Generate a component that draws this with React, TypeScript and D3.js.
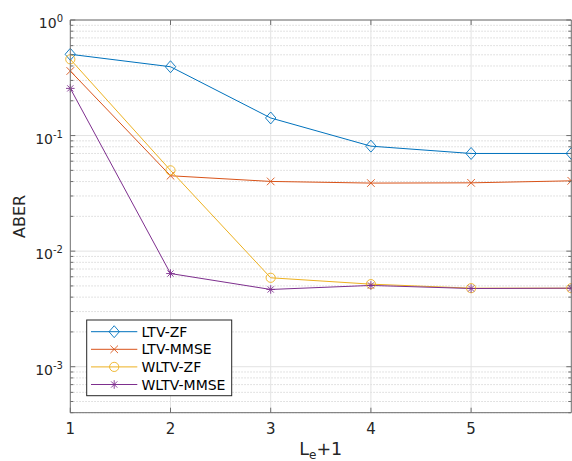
import React from "react";
import * as d3 from "d3";

const xValues = [1, 2, 3, 4, 5, 6];
const seriesNames = ["LTV-ZF", "LTV-MMSE", "WLTV-ZF", "WLTV-MMSE"];
const ltvZF = [0.505, 0.394, 0.142, 0.081, 0.070, 0.070];
const ltvMMSE = [0.362, 0.0449, 0.0401, 0.0388, 0.039, 0.0406];
const wltvZF = [0.457, 0.050, 0.00588, 0.00518, 0.00478, 0.00478];
const wltvMMSE = [0.256, 0.0064, 0.00466, 0.00505, 0.00475, 0.00478];
const seriesColors = ["#0072BD", "#D95319", "#EDB120", "#7E2F8E"];
const markers = ["diamond", "x", "circle", "star"];
const xTicks = [1, 2, 3, 4, 5];
const yDecades = [0, -1, -2, -3];

const W = 572, H = 461;
const L = 70.3, R = 571.3, T = 20, B = 412.7;
const FONT = "DejaVu Sans, sans-serif";

function Marker({ type, x, y, color }: { type: string; x: number; y: number; color: string }) {
  const sw = 0.9;
  if (type === "diamond") {
    const a = 5.2;
    return <path d={`M${x},${y - a * 1.15}L${x + a},${y}L${x},${y + a * 1.15}L${x - a},${y}Z`} fill="none" stroke={color} strokeWidth={sw} />;
  }
  if (type === "circle") return <circle cx={x} cy={y} r={4.6} fill="none" stroke={color} strokeWidth={sw} />;
  if (type === "x") {
    const a = 3.8;
    return <path d={`M${x - a},${y - a}L${x + a},${y + a}M${x - a},${y + a}L${x + a},${y - a}`} stroke={color} strokeWidth={sw} />;
  }
  const a = 4.3;
  const b = a * 0.72;
  return <path d={`M${x},${y - a}L${x},${y + a}M${x - a},${y}L${x + a},${y}M${x - b},${y - b}L${x + b},${y + b}M${x - b},${y + b}L${x + b},${y - b}`} stroke={color} strokeWidth={sw} />;
}

export default function App() {
  const x = d3.scaleLinear().domain([1, 6]).range([L, R]);
  const y = d3.scaleLog().domain([4e-4, 1]).range([B, T]);
  const series = [ltvZF, ltvMMSE, wltvZF, wltvMMSE];
  const line = d3.line<number>().x((_, i) => x(xValues[i])).y((d) => y(d));

  const minor: number[] = [];
  for (const dec of [-4, -3, -2, -1]) {
    for (let k = 2; k <= 9; k++) {
      const v = k * Math.pow(10, dec);
      if (v >= 4e-4 && v < 1) minor.push(v);
    }
  }
  const axisColor = "#6e6e6e";
  const legX = 86.7, legY = 320, legW = 145, legH = 75.7;
  const rowY = [331.7, 349.3, 366.9, 384.5];

  return (
    <svg width={W} height={H} style={{ position: "absolute", left: 0, top: 0, background: "#fff" }}>
      <rect x={0} y={0} width={W} height={H} fill="#fff" />
      {minor.map((v) => (
        <line key={"mg" + v} x1={L} x2={R} y1={y(v)} y2={y(v)} stroke="#c8c8c8" strokeWidth={0.7} strokeDasharray="1.5,1.5" />
      ))}
      {yDecades.map((d) => (
        <line key={"yg" + d} x1={L} x2={R} y1={y(Math.pow(10, d))} y2={y(Math.pow(10, d))} stroke="#e3e3e3" strokeWidth={1} />
      ))}
      {xTicks.slice(1).map((t) => (
        <line key={"xg" + t} x1={x(t)} x2={x(t)} y1={T} y2={B} stroke="#e3e3e3" strokeWidth={1} />
      ))}
      {series.map((s, i) => (
        <path key={"l" + i} d={line(s) || ""} fill="none" stroke={seriesColors[i]} strokeWidth={1} />
      ))}
      {series.map((s, i) =>
        s.map((v, j) => <Marker key={"m" + i + "_" + j} type={markers[i]} x={x(xValues[j])} y={y(v)} color={seriesColors[i]} />)
      )}
      <path d={`M${L},${T}H${R}V${B}H${L}Z`} fill="none" stroke={axisColor} strokeWidth={1} />
      {xTicks.map((t) => (
        <g key={"xt" + t}>
          <line x1={x(t)} x2={x(t)} y1={B} y2={B - 5} stroke={axisColor} />
          <line x1={x(t)} x2={x(t)} y1={T} y2={T + 5} stroke={axisColor} />
          <text x={x(t)} y={433.5} fontSize={15} fontFamily={FONT} fill="#262626" textAnchor="middle">{t}</text>
        </g>
      ))}
      {yDecades.map((d) => {
        const yy = y(Math.pow(10, d));
        const sup = d === 0 ? "0" : String(d);
        return (
          <g key={"yt" + d}>
            <line x1={L} x2={L + 5} y1={yy} y2={yy} stroke={axisColor} />
            <line x1={R} x2={R - 5} y1={yy} y2={yy} stroke={axisColor} />
            <text x={63} y={yy + 8.3} fontSize={14} fontFamily={FONT} fill="#262626" textAnchor="end">
              10<tspan fontSize={10} dy={-6.3}>{sup}</tspan>
            </text>
          </g>
        );
      })}
      {minor.map((v) => (
        <g key={"mt" + v}>
          <line x1={L} x2={L + 3} y1={y(v)} y2={y(v)} stroke={axisColor} />
          <line x1={R} x2={R - 3} y1={y(v)} y2={y(v)} stroke={axisColor} />
        </g>
      ))}
      <text x={(L + R) / 2} y={454.5} fontSize={17.5} fontFamily={FONT} fill="#262626" textAnchor="middle">
        L<tspan fontSize={12} dy={4}>e</tspan><tspan dy={-4}>+1</tspan>
      </text>
      <text transform={`translate(25,${(T + B) / 2}) rotate(-90)`} fontSize={16} fontFamily={FONT} fill="#262626" textAnchor="middle">ABER</text>
      <rect x={legX} y={legY} width={legW} height={legH} fill="#fff" stroke="#262626" strokeWidth={1} />
      {seriesNames.map((n, i) => (
        <g key={"lg" + i}>
          <line x1={91} x2={137.3} y1={rowY[i]} y2={rowY[i]} stroke={seriesColors[i]} strokeWidth={1} />
          <Marker type={markers[i]} x={114.2} y={rowY[i]} color={seriesColors[i]} />
          <text x={141.5} y={rowY[i] + 5} fontSize={14} fontFamily={FONT} fill="#000">{n}</text>
        </g>
      ))}
    </svg>
  );
}
